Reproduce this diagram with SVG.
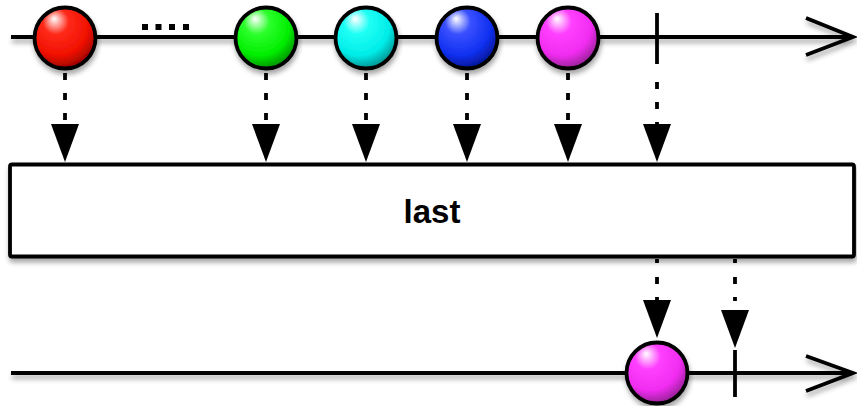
<svg xmlns="http://www.w3.org/2000/svg" width="857" height="406" viewBox="0 0 857 406">
<defs>
<style>
.ln{stroke:#000;stroke-width:3.8;fill:none}
.dash{stroke:#000;stroke-width:3.8;fill:none;stroke-dasharray:7 13}
.ball{stroke:#000;stroke-width:3.8}
.lbl{font-family:"Liberation Sans",Arial,sans-serif;font-weight:bold;font-size:33px;fill:#000}
</style>
<filter id="sh" x="-10%" y="-30%" width="120%" height="180%">
<feDropShadow dx="1" dy="4" stdDeviation="2.5" flood-color="#000" flood-opacity="0.35"/>
</filter>
<radialGradient id="gR" cx="0.42" cy="0.35" r="0.7" fx="0.32" fy="0.18"><stop offset="0" stop-color="#fff"/><stop offset="0.3" stop-color="#ff2a1a"/><stop offset="0.7" stop-color="#f01000"/><stop offset="1" stop-color="#800"/></radialGradient>
<radialGradient id="gG" cx="0.42" cy="0.35" r="0.7" fx="0.32" fy="0.18"><stop offset="0" stop-color="#fff"/><stop offset="0.3" stop-color="#2cff2c"/><stop offset="0.7" stop-color="#00ee00"/><stop offset="1" stop-color="#008000"/></radialGradient>
<radialGradient id="gC" cx="0.42" cy="0.35" r="0.7" fx="0.32" fy="0.18"><stop offset="0" stop-color="#fff"/><stop offset="0.3" stop-color="#1ffff5"/><stop offset="0.7" stop-color="#00ece8"/><stop offset="1" stop-color="#008080"/></radialGradient>
<radialGradient id="gB" cx="0.42" cy="0.35" r="0.7" fx="0.32" fy="0.18"><stop offset="0" stop-color="#fff"/><stop offset="0.3" stop-color="#3a50ff"/><stop offset="0.7" stop-color="#1030f0"/><stop offset="1" stop-color="#001080"/></radialGradient>
<radialGradient id="gM" cx="0.42" cy="0.35" r="0.7" fx="0.32" fy="0.18"><stop offset="0" stop-color="#fff"/><stop offset="0.3" stop-color="#ff40ff"/><stop offset="0.7" stop-color="#f02cf0"/><stop offset="1" stop-color="#852085"/></radialGradient>
<path id="ah" d="M-14,0 L14,0 L0,38 Z" fill="#000"/>
</defs>
<rect width="857" height="406" fill="#fff"/>

<g id="connectors">
<g filter="url(#sh)">
<path class="ln" d="M11,37 H853"/>
<path class="ln" d="M806,18 L853,37 L806,55"/>
<path class="ln" d="M11,373 H853"/>
<path class="ln" d="M806,356 L853,373 L806,391"/>
</g>
<g>
<line class="dash" x1="65" y1="73" x2="65" y2="124"/>
<line class="dash" x1="266" y1="73" x2="266" y2="124"/>
<line class="dash" x1="366" y1="73" x2="366" y2="124"/>
<line class="dash" x1="467" y1="73" x2="467" y2="124"/>
<line class="dash" x1="568" y1="73" x2="568" y2="124"/>
<line class="dash" x1="657" y1="82" x2="657" y2="124"/>
<use href="#ah" x="65" y="124"/>
<use href="#ah" x="266" y="124"/>
<use href="#ah" x="366" y="124"/>
<use href="#ah" x="467" y="124"/>
<use href="#ah" x="568" y="124"/>
<use href="#ah" x="657" y="124"/>
<line class="dash" x1="657" y1="259" x2="657" y2="300" style="stroke-dasharray:4 14 7 13"/>
<line class="dash" x1="735" y1="259" x2="735" y2="310" style="stroke-dasharray:4 14 7 13"/>
<use href="#ah" x="657" y="300"/>
<use href="#ah" x="735" y="310"/>
</g>
</g>

<g id="dots" fill="#000">
<rect x="142" y="24" width="6" height="6"/>
<rect x="155.5" y="24" width="6" height="6"/>
<rect x="169" y="24" width="6" height="6"/>
<rect x="183" y="24" width="6" height="6"/>
</g>

<g id="tick-top"><line class="ln" x1="657" y1="13" x2="657" y2="64"/></g>

<g id="ball-red" filter="url(#sh)"><circle class="ball" cx="65" cy="38" r="30.5" fill="url(#gR)"/></g>
<g id="ball-green" filter="url(#sh)"><circle class="ball" cx="266" cy="38" r="30.5" fill="url(#gG)"/></g>
<g id="ball-cyan" filter="url(#sh)"><circle class="ball" cx="366" cy="38" r="30.5" fill="url(#gC)"/></g>
<g id="ball-blue" filter="url(#sh)"><circle class="ball" cx="467" cy="38" r="30.5" fill="url(#gB)"/></g>
<g id="ball-magenta" filter="url(#sh)"><circle class="ball" cx="568" cy="38" r="30.5" fill="url(#gM)"/></g>

<g id="op-last">
<rect x="10" y="164.5" width="844" height="92" rx="2" fill="#fff" stroke="#000" stroke-width="3.8" filter="url(#sh)"/>
<text class="lbl" x="432" y="223" text-anchor="middle">last</text>
</g>

<g id="ball-out" filter="url(#sh)"><circle class="ball" cx="657" cy="373" r="30.5" fill="url(#gM)"/></g>
<g id="tick-bottom"><line class="ln" x1="735" y1="350" x2="735" y2="397"/></g>
</svg>
